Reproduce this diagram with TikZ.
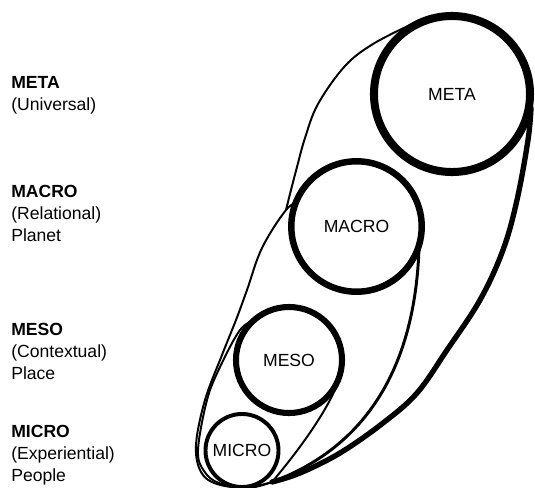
\documentclass[tikz,border=0pt]{standalone}
\usepackage{fontspec}
\setmainfont{Liberation Sans}

\begin{document}
\begin{tikzpicture}[x=0.025cm, y=-0.025cm,
                every node/.style={font=\fontsize{12.5}{15.6}\selectfont},
                level/.style={
                        circle,
                        draw,
                        fill=white,
                        inner sep=0pt},
                levelname/.style={anchor=north west, align=left, inner sep=0pt},
                loopline/.style={line width=1.4pt, line join=round, line cap=round}]

                \useasboundingbox (0,0) rectangle (535,488);

                \coordinate (apex) at (272,482);
                \coordinate (fork) at (286,210);

                \draw[loopline] plot[smooth, tension=0.6] coordinates {(apex) (248,487) (219,483) (204,471) (198,450) (207,400) (220,367) (240,330) (255,320)};
                \draw[loopline] (337,385) .. controls (325,415) and (295,455) .. (apex);

                \draw[loopline] plot[smooth, tension=0.6] coordinates {(apex) (248,488) (217,484) (201,472) (196,445) (205,400) (222,355) (236,320) (247,290) (262,248) (fork) (300,201)};
                \draw[loopline, line width=2.1pt] (419,248) .. controls (416,340) and (385,440) .. (apex);

                \draw[loopline] plot[smooth, tension=0.6] coordinates {(fork) (291,190) (297,167) (305,138) (318,104) (345,66) (373,44) (410,25)};
                \draw[loopline, line width=3.8pt] plot[smooth, tension=0.6] coordinates {(531,108) (528,140) (517,200) (503,250) (480,300) (447,350) (417,393) (383,423) (340,453) (300,473) (apex)};

                \node[level, line width=5.7pt, minimum size=3.9cm] (meta) at (452,94) {META};
                \node[level, line width=4.6pt, minimum size=3.26cm] (macro) at (356.5,226.5) {MACRO};
                \node[level, line width=4.3pt, minimum size=2.65cm] (meso) at (289,360) {MESO};
                \node[level, line width=2.8pt, minimum size=1.825cm] (micro) at (242,450.5) {MICRO};

                \node[levelname] (metaname) at (11,76.5) {\textbf{META}\\(Universal)};
                \node[levelname] (macroname) at (11,185) {\textbf{MACRO}\\(Relational)\\Planet};
                \node[levelname] (mesoname) at (11,323) {\textbf{MESO}\\(Contextual)\\Place};
                \node[levelname] (microname) at (11,425) {\textbf{MICRO}\\(Experiential)\\People};
\end{tikzpicture}
\end{document}
